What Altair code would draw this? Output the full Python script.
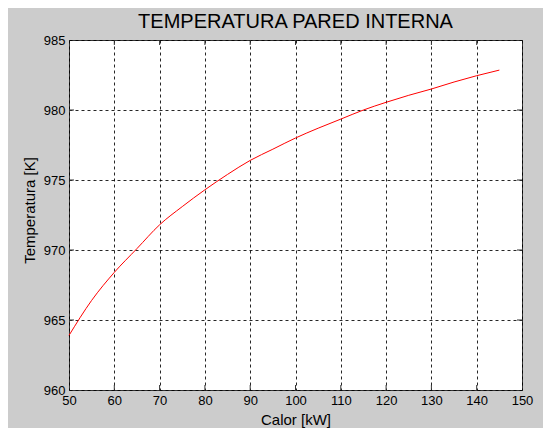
import altair as alt
import pandas as pd

# Data
calor = [50, 55, 60, 65, 70, 75, 80, 85, 90, 95, 100, 105, 110, 115, 120, 125, 130, 135, 140, 145]
temperatura = [963.9, 966.4, 968.4, 970.1, 971.8, 973.1, 974.3, 975.4, 976.4, 977.2,
               978.0, 978.7, 979.35, 980.0, 980.55, 981.05, 981.5, 982.0, 982.45, 982.85]
x_ticks = [50, 60, 70, 80, 90, 100, 110, 120, 130, 140, 150]
y_ticks = [960, 965, 970, 975, 980, 985]
titulo = ["TEMPERATURA PARED INTERNA"]

FONT = "Liberation Sans"
W, H = 453, 350

df = pd.DataFrame({"Q": calor, "T": temperatura})
xt = pd.DataFrame({"Q": x_ticks[1:-1]})
yt = pd.DataFrame({"T": y_ticks[1:-1]})
tdf = pd.DataFrame({"label": titulo})

xscale = alt.Scale(domain=[50, 150], nice=False, zero=False)
yscale = alt.Scale(domain=[960, 985], nice=False, zero=False)

line = alt.Chart(df).mark_line(color="#ff0000", strokeWidth=1, interpolate="monotone").encode(
    x=alt.X("Q:Q", scale=xscale,
            axis=alt.Axis(values=x_ticks, title="Calor [kW]", labelFlush=False,
                          titleY=34, titleBaseline="alphabetic")),
    y=alt.Y("T:Q", scale=yscale,
            axis=alt.Axis(values=y_ticks, title="Temperatura [K]",
                          titleX=-32, titleY=170, titleBaseline="bottom")),
)

tick_style = dict(color="#333333", strokeWidth=1)
xb = alt.Chart(xt).mark_rule(**tick_style).encode(
    x=alt.X("Q:Q"), y=alt.value(H), y2=alt.value(H - 5))
xtop = alt.Chart(xt).mark_rule(**tick_style).encode(
    x=alt.X("Q:Q"), y=alt.value(0), y2=alt.value(5))
yl = alt.Chart(yt).mark_rule(**tick_style).encode(
    y=alt.Y("T:Q"), x=alt.value(0), x2=alt.value(5))
yr = alt.Chart(yt).mark_rule(**tick_style).encode(
    y=alt.Y("T:Q"), x=alt.value(W), x2=alt.value(W - 5))

title = alt.Chart(tdf).mark_text(
    font=FONT, fontSize=20, color="#000000", align="center", baseline="alphabetic"
).encode(text="label:N", x=alt.value(W / 2), y=alt.value(-12))

chart = alt.layer(line, xb, xtop, yl, yr, title).properties(
    width=W, height=H,
    background="#cccccc",
    autosize=alt.AutoSizeParams(type="none"),
    padding={"left": 61, "top": 32, "right": 21, "bottom": 38},
).configure_view(
    fill="#ffffff", stroke="#333333", strokeWidth=1
).configure_axis(
    domain=False, ticks=False,
    grid=True, gridColor="#000000", gridDash=[3, 3], gridWidth=1, gridOpacity=0.85,
    labelFont=FONT, labelFontSize=13, labelColor="#000000", labelPadding=4,
    labelBound=False,
    titleFont=FONT, titleFontSize=15, titleFontWeight="normal", titleColor="#000000",
)

chart.save("out.html", embed_options={"renderer": "svg", "actions": False})
